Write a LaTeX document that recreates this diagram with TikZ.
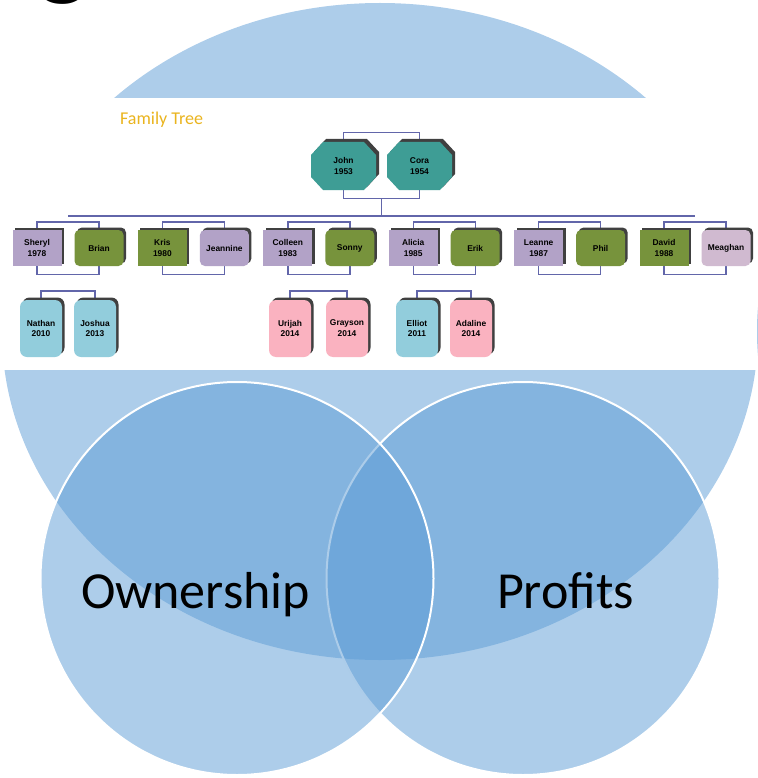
\documentclass[tikz,border=0pt]{standalone}
\usepackage{fontspec}
\setmainfont{Carlito}
\newfontfamily\boxfont{Liberation Sans}
\usetikzlibrary{shadows,calc,backgrounds}
\definecolor{vb}{RGB}{91,155,213}
\definecolor{purp}{RGB}{178,162,199}
\definecolor{grn}{RGB}{119,147,60}
\definecolor{meag}{RGB}{208,186,208}
\definecolor{tealc}{RGB}{62,157,149}
\definecolor{kidb}{RGB}{146,205,220}
\definecolor{pinkc}{RGB}{250,178,192}
\definecolor{connc}{RGB}{98,102,170}
\definecolor{goldc}{RGB}{234,180,30}
\newcommand\ftoct[3]{%
 \fill[#3] ({#1-20.5},{#2-24}) -- ({#1+20.5},{#2-24}) -- ({#1+32.5},{#2-11}) -- ({#1+32.5},{#2+11}) -- ({#1+20.5},{#2+24}) -- ({#1-20.5},{#2+24}) -- ({#1-32.5},{#2+11}) -- ({#1-32.5},{#2-11}) -- cycle;}
\tikzset{
 boxtext/.style={inner sep=0pt, align=center, font=\boxfont\bfseries\fontsize{8.4}{10.8}\selectfont},
 person/.style={boxtext, minimum width=49pt, minimum height=36pt,
   drop shadow={shadow xshift=2.5pt,shadow yshift=2.5pt,fill=black!75,opacity=1}},
 spouse/.style={person, rounded corners=5pt},
 kid/.style={person, minimum width=42pt, minimum height=57pt, rounded corners=7pt},
 conn/.style={draw=connc, line width=1.4pt},
 venn/.style={fill=vb, fill opacity=0.5, draw=white, line width=2pt},
}
\begin{document}
\begin{tikzpicture}[x=1pt,y=-1pt]
\useasboundingbox (0,0) rectangle (757,778);
\begin{pgfonlayer}{background}
\fill[vb, opacity=0.5] (380,331.5) ellipse [x radius=378pt, y radius=328.5pt];
\fill[white] (0,98) rectangle (757,370);
\end{pgfonlayer}
\node[anchor=base west, inner sep=0pt, font=\fontsize{110}{110}\selectfont] (titleg) at (37,-14) {g};
\node[anchor=base west, inner sep=0pt, text=goldc, font=\fontsize{18}{20}\selectfont] (ftitle) at (120,124.5) {Family Tree};
% grandparents
\ftoct{346.5}{163}{black!75}
\ftoct{343.5}{166}{tealc}
\ftoct{422.5}{163}{black!75}
\ftoct{419.5}{166}{tealc}
\node[boxtext, minimum width=65pt, minimum height=48pt] (john) at (343.5,166) {John\\1953};
\node[boxtext, minimum width=65pt, minimum height=48pt] (cora) at (419.5,166) {Cora\\1954};
% couples
\node[person, fill=purp] (sheryl) at (37,248) {Sheryl\\1978};
\node[spouse, fill=grn] (brian) at (99,248) {Brian};
\node[person, fill=grn] (kris) at (162.4,248) {Kris\\1980};
\node[spouse, fill=purp] (jeannine) at (224.4,248) {Jeannine};
\node[person, fill=purp] (colleen) at (287.8,248) {Colleen\\1983};
\node[spouse, fill=grn] (sonny) at (349.8,248) {Sonny};
\node[person, fill=purp] (alicia) at (413.2,248) {Alicia\\1985};
\node[spouse, fill=grn] (erik) at (475.2,248) {Erik};
\node[person, fill=purp] (leanne) at (538.6,248) {Leanne\\1987};
\node[spouse, fill=grn] (phil) at (600.6,248) {Phil};
\node[person, fill=grn] (david) at (664,248) {David\\1988};
\node[spouse, fill=meag] (meaghan) at (726,248) {Meaghan};
% grandchildren
\node[kid, fill=kidb] (nathan) at (41,328.5) {Nathan\\2010};
\node[kid, fill=kidb] (joshua) at (95,328.5) {Joshua\\2013};
\node[kid, fill=pinkc] (urijah) at (290,328.5) {Urijah\\2014};
\node[kid, fill=pinkc] (grayson) at (347,328.5) {Grayson\\2014};
\node[kid, fill=kidb] (elliot) at (417,328.5) {Elliot\\2011};
\node[kid, fill=pinkc] (adaline) at (471,328.5) {Adaline\\2014};
\begin{pgfonlayer}{background}
\draw[conn] (john.north) -- ++(0,-9) -| (cora.north);
\draw[conn] (john.south) -- ++(0,8) coordinate (jb) -| (cora.south);
\coordinate (rootjoin) at ($(jb)!0.5!(cora.south|-jb)$);
\coordinate (busL) at (68,216);
\coordinate (busR) at (695,216);
\draw[conn] (rootjoin) -- (rootjoin|-busL);
\draw[conn] (busL) -- (busR);
\foreach \a/\b in {sheryl/brian,kris/jeannine,colleen/sonny,alicia/erik,leanne/phil,david/meaghan}{
  \draw[conn] (\a.north) -- ++(0,-8) coordinate (t\a) -| (\b.north);
  \draw[conn] ($(t\a)!0.5!(\b.north|-t\a)$) -- ($(t\a)!0.5!(\b.north|-t\a)$|-busL);
  \draw[conn] (\a.south) -- ++(0,8) coordinate (s\a) -| (\b.south);
}
\foreach \p/\c/\d in {sheryl/nathan/joshua,colleen/urijah/grayson,alicia/elliot/adaline}{
  \draw[conn] (\c.north) -- ++(0,-9) coordinate (k\c) -| (\d.north);
  \draw[conn] ($(k\c)!0.5!(\d.north|-k\c)$) -- ($(k\c)!0.5!(\d.north|-k\c)$|-s\p);
}
\end{pgfonlayer}
% Venn circles
\path[venn] (523,578.5) circle [radius=196.5pt];
\path[venn] (237,578.5) circle [radius=196.5pt];
\node[anchor=base, inner sep=0pt, font=\fontsize{52}{60}\selectfont] (own) at (195.5,608) {Ownership};
\node[anchor=base, inner sep=0pt, font=\fontsize{52}{60}\selectfont] (prof) at (565.5,608) {Profits};
\end{tikzpicture}
\end{document}
